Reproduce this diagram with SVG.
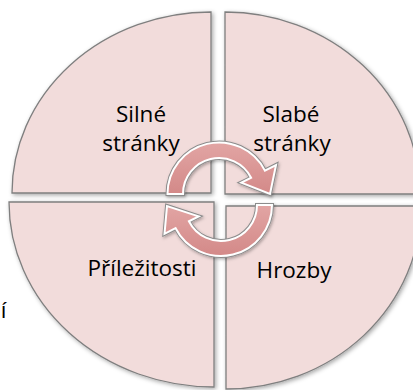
<svg xmlns="http://www.w3.org/2000/svg" xmlns:xlink="http://www.w3.org/1999/xlink" width="413" height="390" viewBox="0 0 413 390">
<defs>
<style>
.q{fill:#f2dcdb;stroke:#7f7f7f;stroke-width:1.3;filter:url(#sh)}
.t{font-family:"Open Sans","Noto Sans",sans-serif;font-size:22.5px;fill:#000;text-anchor:middle}
.ao{fill:none;stroke:#8c8c8c;stroke-width:4;stroke-linejoin:miter}
.ai{fill:url(#ag);stroke:#fff;stroke-width:2;stroke-linejoin:miter}
</style>
<filter id="sh" x="-10%" y="-10%" width="120%" height="120%">
<feDropShadow dx="1.5" dy="1.5" stdDeviation="2" flood-color="#000" flood-opacity="0.35"/>
</filter>
<filter id="ash" x="-20%" y="-20%" width="140%" height="140%">
<feDropShadow dx="1" dy="1.5" stdDeviation="1.5" flood-color="#000" flood-opacity="0.3"/>
</filter>
<linearGradient id="ag" x1="0" y1="0" x2="0" y2="1">
<stop offset="0" stop-color="#e2a5a4"/>
<stop offset="1" stop-color="#d38988"/>
</linearGradient>
<path id="arrTop" d="M167.5,194 A51.5,51.5 0 0 1 264.9,170.6 L276,165 L270,194 L241.3,182.6 L251.1,177.7 A36,36 0 0 0 183,194 Z"/>
<path id="arrBot" d="M272,205 A51,51 0 0 1 175.6,228.2 L164.5,233.8 L167,206 L198.7,216.4 L188.9,221.3 A36,36 0 0 0 257,205 Z"/>
</defs>
<rect width="413" height="390" fill="#fff"/>
<g id="quadrants">
<g id="silne"><path class="q" d="M211,193 L12,193 A199,181 0 0 1 211,12 Z"/></g>
<g id="slabe"><path class="q" d="M225,194 L225,12 A195,182 0 0 1 420,194 Z"/></g>
<g id="prilezitosti"><path class="q" d="M214,202 L9,202 A205,185 0 0 0 214,387 Z"/></g>
<g id="hrozby"><path class="q" d="M226,206 L226,389 A195,183 0 0 0 421,206 Z"/></g>
</g>
<g id="connectors" filter="url(#ash)">
<use xlink:href="#arrTop" class="ao"/>
<use xlink:href="#arrTop" class="ai"/>
<use xlink:href="#arrBot" class="ao"/>
<use xlink:href="#arrBot" class="ai"/>
</g>
<g id="labels">
<text class="t" x="141" y="122">Silné</text>
<text class="t" x="141" y="151">stránky</text>
<text class="t" x="291" y="122">Slabé</text>
<text class="t" x="292" y="151">stránky</text>
<text class="t" x="142" y="276">Příležitosti</text>
<text class="t" x="294" y="278">Hrozby</text>
<text class="t" x="3.5" y="318">í</text>
</g>
</svg>
